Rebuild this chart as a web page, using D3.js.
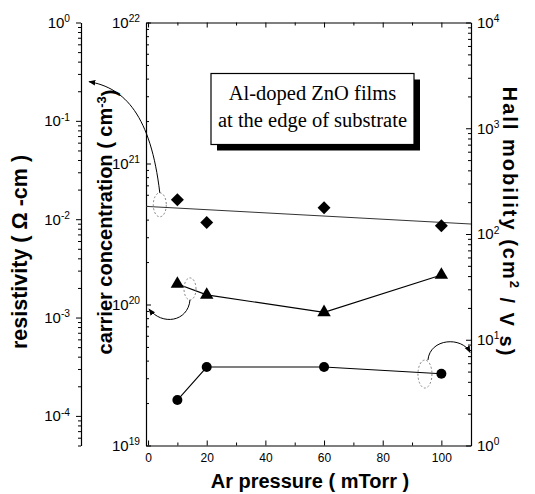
<!DOCTYPE html>
<html>
<head>
<meta charset="utf-8">
<script src="https://cdn.jsdelivr.net/npm/d3@7"></script>
<style>
  body { margin: 0; background: #fff; }
  svg { display: block; }
  text { font-family: "Liberation Sans", Arial, Helvetica, sans-serif; fill: #000; }
  text.caption { font-family: "Liberation Serif", "Times New Roman", serif; }
</style>
</head>
<body>
<svg id="chart" width="535" height="494"></svg>
<script>
// Ar pressure (mTorr) of each sputtered film
const pressure = [10, 20, 60, 100];
// resistivity (ohm-cm), left axis
const resistivity = [0.0158, 0.00927, 0.0131, 0.00858];
// carrier concentration (cm^-3), inner left axis
const carrierConc = [1.40e20, 1.17e20, 8.8e19, 1.62e20];
// Hall mobility (cm^2 / V s), right axis
const hallMobility = [2.69, 5.52, 5.52, 4.77];
// straight fit through the resistivity points, at the two ends of the pressure range
const resFitPressure = [-0.7, 110.1];
const resFitValues = [0.0135, 0.00893];

const xTickValues = [0, 10, 20, 30, 40, 50, 60, 70, 80, 90, 100];
const xTickLabels = [0, 20, 40, 60, 80, 100];

const svg = d3.select("#chart");

const frame = { left: 146, right: 471, top: 22.5, bottom: 445.5 };
const resAxisX = 81;

const x = d3.scaleLinear().domain([-0.7, 110.1]).range([frame.left, frame.right]);
const yRes = d3.scaleLog().domain([5e-5, 1]).range([frame.bottom, frame.top]);
const yCar = d3.scaleLog().domain([1e19, 1e22]).range([frame.bottom, frame.top]);
const yHall = d3.scaleLog().domain([1, 1e4]).range([frame.bottom, frame.top]);

const isDecade = v => Math.abs(Math.log10(v) - Math.round(Math.log10(v))) < 1e-6;

// writes "10" with the exponent as a raised, smaller tspan
function powerLabel(text, v) {
  const e = Math.round(Math.log10(v));
  text.text(null);
  text.append("tspan").text("10");
  text.append("tspan").attr("dy", "-0.55em").attr("font-size", "0.68em").text(e);
}

function styleLogAxis(g, major, minor, fontSize) {
  g.select(".domain").attr("stroke", "#000").attr("stroke-width", 1.2);
  g.selectAll(".tick line").attr("stroke", "#000").attr("stroke-width", 1);
  g.selectAll(".tick").each(function (d) {
    const t = d3.select(this);
    const ln = t.select("line");
    const k = isDecade(d) ? major : minor;
    if (ln.attr("x2") !== null && +ln.attr("x2") !== 0) ln.attr("x2", Math.sign(+ln.attr("x2")) * k);
    if (ln.attr("y2") !== null && +ln.attr("y2") !== 0) ln.attr("y2", Math.sign(+ln.attr("y2")) * k);
    const tx = t.select("text");
    if (isDecade(d)) powerLabel(tx, d); else tx.remove();
  });
  g.selectAll(".tick text").attr("font-size", fontSize);
}

// resistivity axis, standing apart on the far left
const gRes = svg.append("g").attr("transform", `translate(${resAxisX},0)`)
  .call(d3.axisLeft(yRes).tickValues(yRes.ticks()).tickSize(5).tickPadding(6).tickSizeOuter(0));
styleLogAxis(gRes, 5, 3, 15);

// carrier concentration axis on the left edge of the frame, ticks pointing inward
const gCar = svg.append("g").attr("transform", `translate(${frame.left},0)`)
  .call(d3.axisLeft(yCar).tickValues(yCar.ticks()).tickSize(-5).tickPadding(6).tickSizeOuter(0));
styleLogAxis(gCar, 5, 3, 15);

// Hall mobility axis on the right edge of the frame, ticks pointing inward
const gHall = svg.append("g").attr("transform", `translate(${frame.right},0)`)
  .call(d3.axisRight(yHall).tickValues(yHall.ticks()).tickSize(-5).tickPadding(6).tickSizeOuter(0));
styleLogAxis(gHall, 5, 3, 15);

// pressure axis at the bottom and its mirror along the top
function styleXAxis(g, withLabels) {
  g.select(".domain").attr("stroke", "#000").attr("stroke-width", 1.2);
  g.selectAll(".tick line").attr("stroke", "#000").each(function (d) {
    const ln = d3.select(this);
    const k = (d % 20 === 0) ? 5 : 3;
    ln.attr("y2", Math.sign(+ln.attr("y2")) * k);
  });
  g.selectAll(".tick text").each(function (d) {
    const t = d3.select(this);
    if (!withLabels || !xTickLabels.includes(d)) t.remove();
  });
  g.selectAll(".tick text").attr("font-size", 12);
}
const gX = svg.append("g").attr("transform", `translate(0,${frame.bottom})`)
  .call(d3.axisBottom(x).tickValues(xTickValues).tickSize(-5).tickPadding(8).tickSizeOuter(0));
styleXAxis(gX, true);
const gXTop = svg.append("g").attr("transform", `translate(0,${frame.top})`)
  .call(d3.axisTop(x).tickValues(xTickValues).tickSize(-5).tickSizeOuter(0));
styleXAxis(gXTop, false);

// axis titles
svg.append("text")
  .attr("transform", `translate(27,252) rotate(-90)`)
  .attr("text-anchor", "middle").attr("font-weight", "bold").attr("font-size", 21.5)
  .text("resistivity ( \u03A9 -cm )");

const carTitle = svg.append("text")
  .attr("transform", `translate(112,222) rotate(-90)`)
  .attr("text-anchor", "middle").attr("font-weight", "bold").attr("font-size", 20);
carTitle.append("tspan").text("carrier concentration ( cm");
carTitle.append("tspan").attr("dy", "-0.5em").attr("font-size", "0.65em").text("-3");
carTitle.append("tspan").attr("dy", "0.5em").text(")");

const hallTitle = svg.append("text")
  .attr("transform", `translate(503,222) rotate(90)`)
  .attr("text-anchor", "middle").attr("font-weight", "bold").attr("font-size", 20)
  .attr("letter-spacing", 2);
hallTitle.append("tspan").text("Hall mobility (cm");
hallTitle.append("tspan").attr("dy", "-0.5em").attr("font-size", "0.65em").text("2");
hallTitle.append("tspan").attr("dy", "0.5em").text(" / V s)");

svg.append("text")
  .attr("x", 310).attr("y", 488)
  .attr("text-anchor", "middle").attr("font-weight", "bold").attr("font-size", 20)
  .text("Ar pressure ( mTorr )");

// resistivity fit line and points (diamonds)
const line = d3.line();
svg.append("path")
  .attr("d", line(resFitPressure.map((p, i) => [x(p), yRes(resFitValues[i])])))
  .attr("fill", "none").attr("stroke", "#333").attr("stroke-width", 1);

svg.selectAll(".res-pt").data(pressure).join("path")
  .attr("class", "res-pt")
  .attr("transform", (p, i) => `translate(${x(p)},${yRes(resistivity[i])}) rotate(45)`)
  .attr("d", d3.symbol(d3.symbolSquare, 84)())
  .attr("fill", "#000");

// carrier concentration (triangles)
svg.append("path")
  .attr("d", line(pressure.map((p, i) => [x(p), yCar(carrierConc[i])])))
  .attr("fill", "none").attr("stroke", "#000").attr("stroke-width", 1.1);
svg.selectAll(".car-pt").data(pressure).join("path")
  .attr("class", "car-pt")
  .attr("transform", (p, i) => `translate(${x(p)},${yCar(carrierConc[i])})`)
  .attr("d", d3.symbol(d3.symbolTriangle, 78)())
  .attr("fill", "#000");

// Hall mobility (circles)
svg.append("path")
  .attr("d", line(pressure.map((p, i) => [x(p), yHall(hallMobility[i])])))
  .attr("fill", "none").attr("stroke", "#000").attr("stroke-width", 1.1);
svg.selectAll(".hall-pt").data(pressure).join("circle")
  .attr("class", "hall-pt")
  .attr("cx", p => x(p))
  .attr("cy", (p, i) => yHall(hallMobility[i]))
  .attr("r", 5)
  .attr("fill", "#000");

// arrowhead for the curved pointers
svg.append("defs").append("marker")
  .attr("id", "head").attr("viewBox", "0 0 10 10")
  .attr("refX", 9).attr("refY", 5)
  .attr("markerWidth", 7).attr("markerHeight", 7)
  .attr("markerUnits", "userSpaceOnUse")
  .attr("orient", "auto")
  .append("path").attr("d", "M0,1 L10,5 L0,9 Z").attr("fill", "#000");

// dotted rings around each series, each with a curved arrow to its own axis
function pointer(cx, cy, rx, ry, path) {
  svg.append("ellipse")
    .attr("cx", cx).attr("cy", cy).attr("rx", rx).attr("ry", ry)
    .attr("fill", "none").attr("stroke", "#777").attr("stroke-width", 0.9)
    .attr("stroke-dasharray", "2,2");
  svg.append("path").attr("d", path)
    .attr("fill", "none").attr("stroke", "#000").attr("stroke-width", 1)
    .attr("marker-end", "url(#head)");
}

{ // resistivity -> left axis
  const cx = x(4), cy = yRes(0.0140);
  const ex = resAxisX + 8, ey = yRes(0.25);
  const sx = cx, sy = cy - 12;
  pointer(cx, cy, 6.5, 12, `M${sx},${sy} C${sx - 9},${sy - 77} ${ex + 36},${ey + 6} ${ex},${ey}`);
}
{ // carrier concentration -> inner left axis
  const cx = x(14.3), cy = yCar(1.29e20);
  const sx = cx, sy = cy + 11;
  const ex = frame.left + 3, ey = yCar(0.93e20);
  pointer(cx, cy, 6, 11, `M${sx},${sy} C${sx - 2},${sy + 22} ${ex + 13},${ey + 17} ${ex},${ey}`);
}
{ // Hall mobility -> right axis
  const cx = x(94.4), cy = yHall(4.74);
  const sx = cx + 3, sy = cy - 14;
  const ex = frame.right - 1, ey = yHall(7.6);
  pointer(cx, cy, 7, 14, `M${sx},${sy} C${sx + 2},${sy - 22} ${ex - 8},${ey - 16} ${ex},${ey}`);
}

// caption box with a drop shadow
const box = { x: 211, y: 73.5, w: 203, h: 71, shadow: 6 };
svg.append("rect")
  .attr("x", box.x + box.shadow).attr("y", box.y + box.shadow)
  .attr("width", box.w).attr("height", box.h).attr("fill", "#000");
svg.append("rect")
  .attr("x", box.x).attr("y", box.y).attr("width", box.w).attr("height", box.h)
  .attr("fill", "#fff").attr("stroke", "#000").attr("stroke-width", 1.2);
const caption = ["Al-doped ZnO films", "at the edge of substrate"];
svg.selectAll(".caption").data(caption).join("text")
  .attr("class", "caption")
  .attr("x", box.x + box.w / 2).attr("y", (d, i) => 99.5 + i * 27)
  .attr("text-anchor", "middle")
  .attr("font-size", 20.5)
  .text(d => d);
</script>
</body>
</html>
